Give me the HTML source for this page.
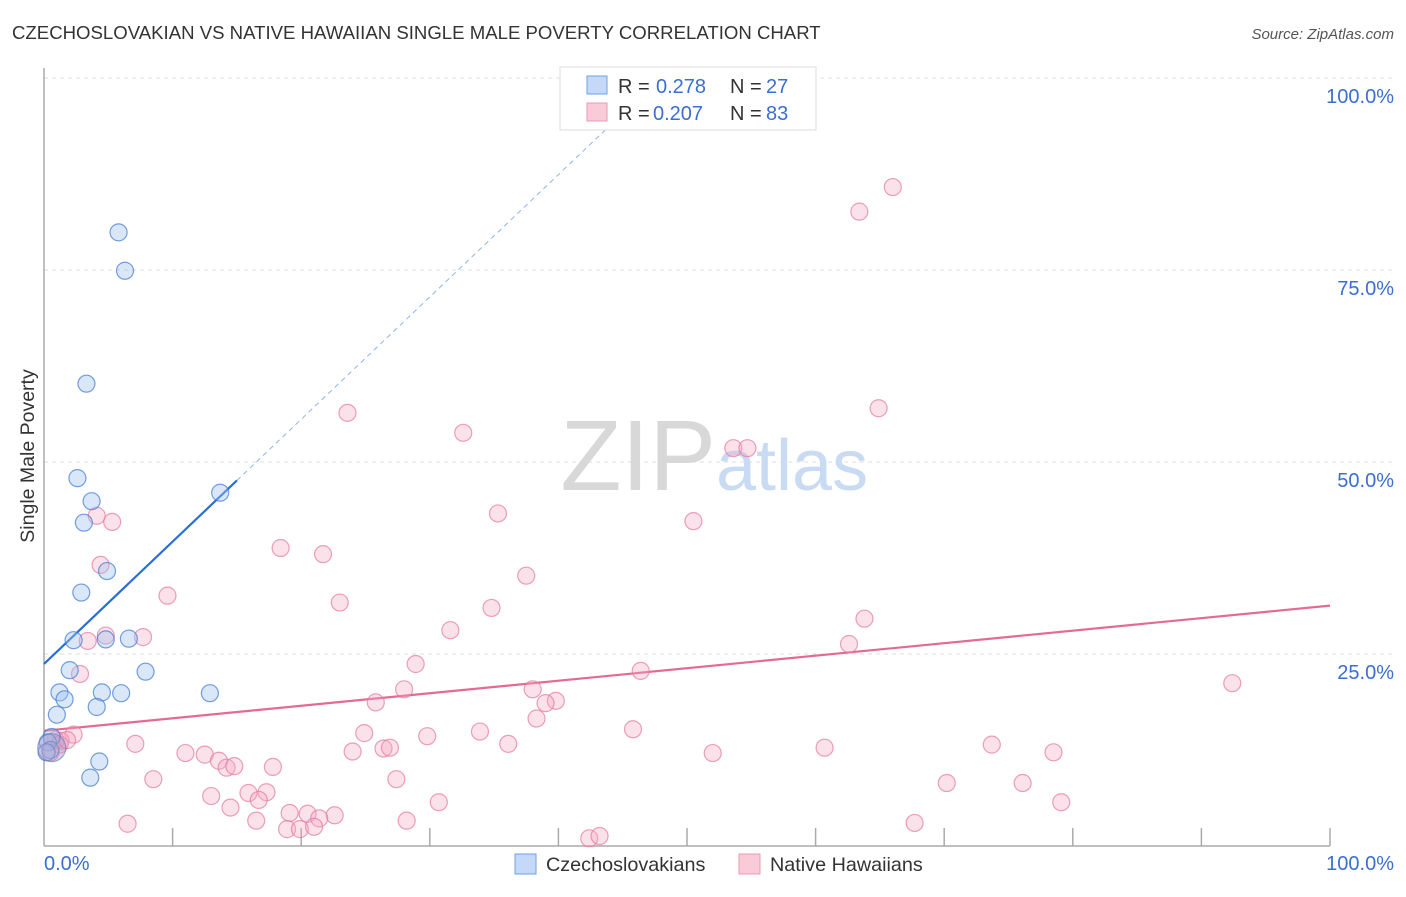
<!DOCTYPE html>
<html><head><meta charset="utf-8"><style>
body{margin:0;background:#fff;font-family:"Liberation Sans",sans-serif;}
svg text{font-family:"Liberation Sans",sans-serif;}
</style></head><body>
<svg width="1406" height="892" viewBox="0 0 1406 892">
<text x="12" y="39" font-size="18.6" fill="#333">CZECHOSLOVAKIAN VS NATIVE HAWAIIAN SINGLE MALE POVERTY CORRELATION CHART</text>
<text x="1394" y="39" font-size="15" fill="#555" font-style="italic" text-anchor="end">Source: ZipAtlas.com</text>
<g id="grid"></g>
<text x="716" y="490" font-size="100" fill="#d8d8d8" text-anchor="end" font-family="Liberation Serif,serif">ZIP</text>
<text x="716" y="490" font-size="72" fill="#c9dbf3">atlas</text>
<g id="axes"></g>
<g id="lines"></g>
<g id="pts"></g>
<text x="34" y="456" font-size="19.5" fill="#333" text-anchor="middle" transform="rotate(-90 34 456)">Single Male Poverty</text>
<text x="44" y="870" font-size="20" fill="#3a6fd0">0.0%</text>
<text x="1394" y="870" font-size="20" fill="#3a6fd0" text-anchor="end">100.0%</text>
<g>
<rect x="560" y="67" width="256" height="63" fill="#fff" stroke="#ddd"/>
<rect x="587" y="76" width="20" height="18" fill="#c4d9f7" stroke="#6fa0e6"/>
<rect x="587" y="103" width="20" height="18" fill="#f9cbd8" stroke="#ec9ab3"/>
<text x="618" y="93" font-size="20" fill="#333">R =</text>
<text x="656" y="93" font-size="20" fill="#3a6fd0">0.278</text>
<text x="730" y="93" font-size="20" fill="#333">N =</text>
<text x="766" y="93" font-size="20" fill="#3a6fd0">27</text>
<text x="618" y="120" font-size="20" fill="#333">R =</text>
<text x="653" y="120" font-size="20" fill="#3a6fd0">0.207</text>
<text x="730" y="120" font-size="20" fill="#333">N =</text>
<text x="766" y="120" font-size="20" fill="#3a6fd0">83</text>
</g>
<g>
<rect x="515" y="854" width="21" height="20" fill="#c4d9f7" stroke="#6fa0e6"/>
<text x="546" y="871" font-size="19.8" fill="#333">Czechoslovakians</text>
<rect x="739" y="854" width="21" height="20" fill="#f9cbd8" stroke="#ec9ab3"/>
<text x="770" y="871" font-size="19.8" fill="#333">Native Hawaiians</text>
</g>
</svg>
<script>
const yTicks=[25,50,75,100];
const yTickLabels=["25.0%","50.0%","75.0%","100.0%"];
const blueX=[5.8,6.3,3.3,2.6,3.7,3.1,4.9,2.9,2.3,6.6,4.8,2.0,7.9,1.2,4.5,6.0,12.9,1.6,4.1,1.0,0.6,0.3,0.5,4.3,3.6,13.7,0.2];
const blueY=[79.9,74.9,60.2,47.9,44.9,42.1,35.8,33.0,26.8,27.0,26.9,22.9,22.7,20.0,20.0,19.9,19.9,19.1,18.1,17.1,14.2,13.5,12.5,11.0,8.9,46.0,12.2];
const pinkX=[66,63.4,64.9,23.6,32.6,53.6,54.7,35.3,50.5,4.1,5.3,18.4,21.7,37.5,4.4,9.6,23,34.8,63.8,31.6,4.8,7.7,3.4,62.6,28.9,46.4,2.8,28,38,25.8,39.8,39,38.3,92.4,45.8,33.9,24.9,29.8,2.3,7.1,36.1,26.4,26.9,1.3,73.7,60.7,24,78.5,52,11,12.5,13.6,14.2,14.8,17.8,8.5,27.4,70.2,76.1,13,15.9,17.3,16.7,14.5,30.7,79.1,19.1,20.5,22.6,21.4,16.5,28.2,6.5,67.7,18.9,19.9,21,42.4,43.2,0.9,1.2,1.8,0.5];
const pinkY=[85.8,82.6,57,56.4,53.8,51.8,51.8,43.3,42.3,43,42.2,38.8,38,35.2,36.6,32.6,31.7,31,29.6,28.1,27.4,27.2,26.7,26.3,23.7,22.8,22.4,20.4,20.4,18.7,18.9,18.6,16.6,21.2,15.2,14.9,14.7,14.3,14.5,13.3,13.3,12.7,12.8,13.7,13.2,12.8,12.3,12.2,12.1,12.1,11.9,11.1,10.2,10.4,10.3,8.7,8.7,8.2,8.2,6.5,6.9,7.0,6.0,5.0,5.7,5.7,4.3,4.2,4.0,3.6,3.3,3.3,2.9,3.0,2.2,2.2,2.5,1.0,1.3,13.8,13.2,13.8,12.2];
// trend values at x=0 and x=100
const blueTrend=[23.7,183.0];
const pinkTrend=[15.0,31.3];
const X0=44,X1=1330,Y0=846,Y1=78;
const sx=v=>X0+(X1-X0)*v/100, sy=v=>Y0-(Y0-Y1)*v/100;
const NS="http://www.w3.org/2000/svg";
function mk(t,a,p){const e=document.createElementNS(NS,t);for(const k in a)e.setAttribute(k,a[k]);p.appendChild(e);return e;}
const grid=document.getElementById('grid'),axes=document.getElementById('axes'),lines=document.getElementById('lines'),pts=document.getElementById('pts');
yTicks.forEach((t,i)=>{
 const l=mk('line',{x1:X0,x2:1394,y1:sy(t),y2:sy(t),stroke:'#ddd','stroke-dasharray':'4,4'},grid);
 
 
 const tx=mk('text',{x:1394,y:sy(t)+25,'font-size':20,fill:'#3a6fd0','text-anchor':'end'},grid);
 tx.textContent=yTickLabels[i];
 
 
});
mk('line',{x1:X0,x2:X0,y1:68,y2:Y0,stroke:'#aaa','stroke-width':1.5},axes);
mk('line',{x1:X0,x2:X1,y1:Y0,y2:Y0,stroke:'#aaa','stroke-width':1.5},axes);
for(let i=1;i<=10;i++){const t=mk('line',{x1:sx(i*10),x2:sx(i*10),y1:Y0-18,y2:Y0,stroke:'#aaa','stroke-width':1.5},axes);
 
 }
const bAt=x=>blueTrend[0]+(blueTrend[1]-blueTrend[0])*x/100;
const bx2=15, bxe=46;
let bl=mk('line',{x1:sx(0),y1:sy(bAt(0)),x2:sx(bx2),y2:sy(bAt(bx2)),stroke:'#2a6fd6','stroke-width':2.2},lines);


let bd=mk('line',{x1:sx(bx2),y1:sy(bAt(bx2)),x2:sx(bxe),y2:sy(bAt(bxe)),stroke:'#8fb4e8','stroke-width':1,'stroke-dasharray':'5,4'},lines);


let pl=mk('line',{x1:sx(0),y1:sy(pinkTrend[0]),x2:sx(100),y2:sy(pinkTrend[1]),stroke:'#e46a93','stroke-width':2.2},lines);


pinkX.forEach((x,i)=>{const c=mk('circle',{cx:sx(x),cy:sy(pinkY[i]),r:8.5,fill:'rgba(244,170,195,0.35)',stroke:'rgba(228,120,160,0.7)','stroke-width':1.2},pts);
 
 });
blueX.forEach((x,i)=>{const c=mk('circle',{cx:sx(x),cy:sy(blueY[i]),r:8.5,fill:'rgba(160,195,240,0.4)',stroke:'rgba(60,120,210,0.7)','stroke-width':1.2},pts);
 
 });
let big=mk('circle',{cx:sx(0.6),cy:sy(12.8),r:14,fill:'rgba(170,150,200,0.45)',stroke:'rgba(90,120,200,0.6)','stroke-width':1.2},pts);


</script>
</body></html>
